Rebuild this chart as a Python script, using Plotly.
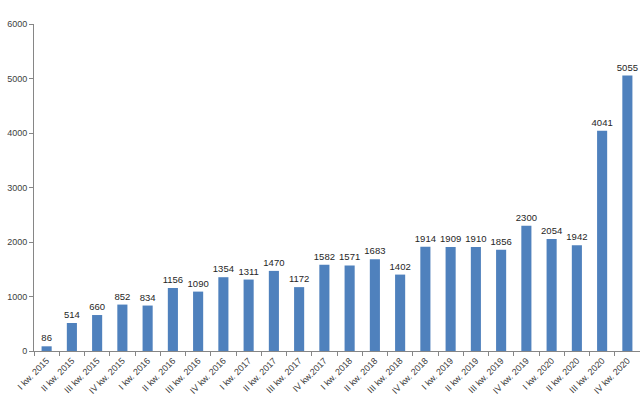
import plotly.graph_objects as go

categories = ["I kw. 2015", "II kw. 2015", "III kw. 2015", "IV kw. 2015",
              "I kw. 2016", "II kw. 2016", "III kw. 2016", "IV kw. 2016",
              "I kw. 2017", "II kw. 2017", "III kw. 2017", "IV kw.2017",
              "I kw. 2018", "II kw. 2018", "III kw. 2018", "IV kw. 2018",
              "I kw. 2019", "II kw. 2019", "III kw. 2019", "IV kw. 2019",
              "I kw. 2020", "II kw. 2020", "III kw. 2020", "IV kw. 2020"]
values = [86, 514, 660, 852, 834, 1156, 1090, 1354, 1311, 1470, 1172, 1582,
          1571, 1683, 1402, 1914, 1909, 1910, 1856, 2300, 2054, 1942, 4041, 5055]
y_ticks = [0, 1000, 2000, 3000, 4000, 5000, 6000]

fig = go.Figure(go.Bar(
    x=categories, y=values,
    marker=dict(color="#4F81BD", line=dict(width=0)),
    text=[str(v) for v in values], textposition="outside",
    constraintext="none",
    textfont=dict(size=9.5, color="#262626"),
    cliponaxis=False,
))

fig.update_layout(
    width=640, height=406,
    margin=dict(l=34, r=0, t=24, b=55),
    paper_bgcolor="white", plot_bgcolor="white",
    font=dict(family="Liberation Sans", color="#404040"),
    bargap=0.6, showlegend=False,
)
fig.update_xaxes(
    type="category", tickangle=-45, tickfont=dict(size=9, color="#404040"),
    showline=True, linecolor="#868686", linewidth=1,
    ticks="outside", ticklen=4, tickcolor="#868686", tickson="boundaries",
    showgrid=False, automargin=False,
)
fig.update_yaxes(
    range=[0, 6000], tickvals=y_ticks, tickfont=dict(size=9, color="#404040"),
    showline=True, linecolor="#868686", linewidth=1,
    ticks="outside", ticklen=4, tickcolor="#868686",
    showgrid=False, zeroline=False, automargin=False,
)

fig.write_html("out.html", config={"displayModeBar": False},
               post_script="document.body.style.margin='0';")
